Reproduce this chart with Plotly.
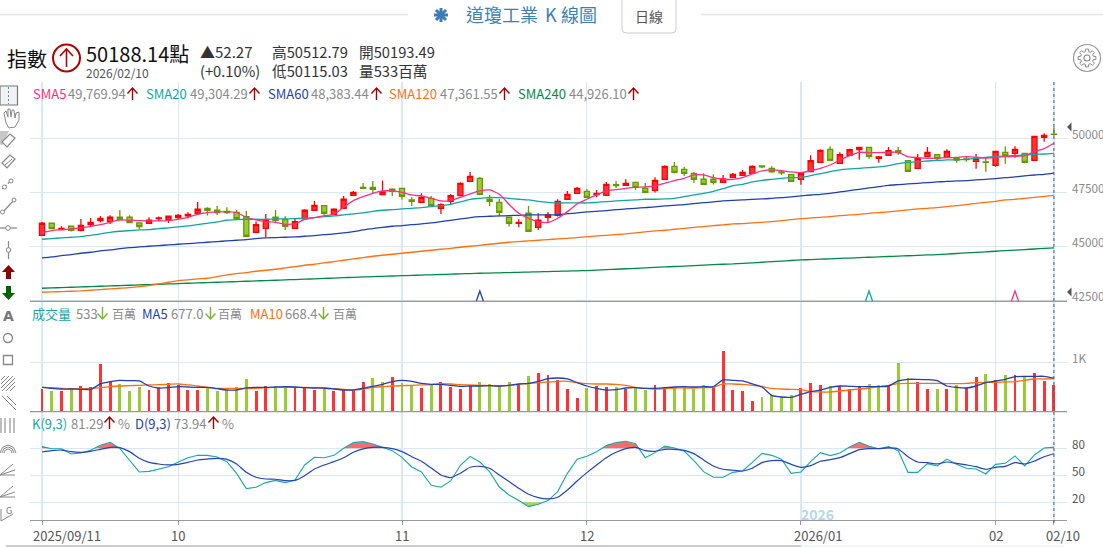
import plotly.graph_objects as go
import numpy as np

# ---------- data ----------
opens = [45510,46066,45773,45927,45742,46004,46189,46143,46344,46344,46081,46066,46282,46236,46328,46405,46529,46760,46668,46621,46575,46374,45649,45834,46344,46236,45834,46266,46668,46884,46482,46760,47362,47732,47732,47393,47640,47686,47146,47038,47223,46760,47084,47346,48010,48149,47177,47038,46344,46066,46529,45880,46344,46436,47177,47454,47547,47393,47362,47856,47825,47964,47686,47593,48103,48704,48565,48380,48103,48103,47964,48194,48287,48379,48719,48611,48441,48318,48101,48456,48889,49490,48842,49212,49475,49583,49073,49212,49428,48966,48611,49150,49243,49120,49073,49042,48935,48904,48750,49351,49305,49305,48981,50046,50193.49]
highs = [46128,46066,45927,45927,46266,46313,46405,46436,46683,46436,46081,46344,46374,46405,46498,46575,47053,46806,46868,46806,46683,46637,46143,46498,46683,46390,46297,46714,47100,46884,46760,47331,47563,47933,48025,48041,47686,47686,47269,47454,47331,46992,47424,47964,48442,48210,47377,47192,46344,46251,46868,46529,46590,47177,47563,47748,47655,47609,47979,48025,48103,47964,47933,48195,48751,48905,48673,48442,48380,48334,48303,48395,48534,48750,48750,48704,48503,48348,48364,49212,49490,49629,49351,49521,49614,49583,49181,49598,49598,48981,49274,49598,49243,49490,49120,49150,49274,49073,49428,49629,49629,49305,50122,50231,50512.79]
lows = [45479,45819,45757,45680,45680,45911,46097,46035,46220,46081,45788,46035,46174,46081,46236,46282,46498,46420,46452,46498,46251,45449,45634,45433,46066,45757,45819,46251,46652,46452,46467,46745,47346,47670,47454,47377,47331,47161,46868,47022,46837,46498,46915,47331,47995,47393,46868,46374,45911,45880,45696,45757,46112,46374,47161,47439,47254,47269,47346,47701,47809,47609,47501,47485,48087,48365,48257,47933,47856,47856,47948,48179,48271,48364,48611,48410,48302,47994,47855,48441,48873,48966,48827,49197,49012,49058,48873,49197,49243,48456,48595,49135,48966,49104,48873,48919,48595,48456,48688,48827,49104,48842,48966,49845,50115.03]
closes = [46066,45819,45834,45742,45973,46112,46297,46344,46236,46097,45911,46205,46313,46390,46436,46482,46714,46668,46560,46560,46282,45464,46004,46220,46205,45927,46143,46668,46899,46529,46714,47177,47501,47686,47640,47516,47547,47316,47084,47269,46884,46930,47346,47917,48241,47408,47084,46575,46066,46112,45696,46205,46452,47084,47408,47686,47269,47454,47871,47809,47917,47732,47501,48056,48704,48427,48380,48103,47871,47964,48118,48333,48426,48704,48673,48441,48395,48009,48364,48966,49444,48981,49243,49475,49583,49166,49135,49428,49336,48472,49058,49351,49058,49398,48996,49012,49073,48889,49398,49197,49490,48889,50091,50137,50188.14]

sma5 = [45634,45726,45773,45804,45865,45927,46004,46112,46220,46205,46189,46174,46174,46189,46251,46344,46482,46560,46590,46606,46560,46344,46220,46143,46112,46019,46050,46251,46328,46420,46482,46806,47115,47300,47454,47563,47563,47501,47377,47331,47223,47100,47115,47269,47424,47563,47609,47408,46945,46529,46297,46143,46097,46297,46606,46961,47177,47377,47563,47624,47686,47732,47748,47794,47917,48041,48149,48303,48303,48180,48103,48102,48179,48349,48487,48534,48503,48441,48410,48503,48611,48765,48997,49197,49351,49336,49336,49351,49351,49151,49105,49074,49089,49105,49120,49151,49120,49089,49120,49151,49166,49197,49382,49521,49769.94]
sma20 = [45325,45356,45387,45418,45449,45510,45572,45649,45696,45726,45757,45773,45819,45850,45896,45942,46004,46066,46128,46205,46236,46251,46251,46251,46266,46266,46282,46297,46328,46374,46405,46452,46498,46544,46621,46668,46698,46729,46760,46791,46837,46884,46945,47053,47177,47223,47269,47254,47223,47177,47146,47084,47038,47007,47007,47007,47007,47038,47069,47100,47130,47146,47177,47177,47192,47223,47300,47377,47454,47547,47670,47809,47870,47978,48055,48102,48148,48179,48194,48271,48364,48457,48534,48580,48611,48642,48673,48734,48827,48889,48919,48950,48981,48997,49012,49027,49074,49120,49151,49182,49197,49228,49259,49274,49304.29]
sma60 = [44461,44507,44569,44615,44677,44723,44785,44831,44893,44939,44970,45001,45032,45063,45094,45124,45155,45186,45217,45248,45279,45310,45356,45387,45402,45418,45433,45464,45495,45541,45572,45618,45680,45757,45819,45880,45927,45958,46004,46035,46081,46143,46205,46266,46328,46374,46390,46405,46420,46436,46452,46452,46452,46467,46513,46544,46590,46621,46652,46698,46729,46760,46791,46822,46868,46899,46930,46976,47022,47053,47100,47130,47145,47176,47191,47222,47253,47284,47330,47376,47407,47454,47515,47577,47639,47700,47762,47824,47855,47886,47916,47947,47978,48009,48025,48040,48071,48102,48133,48179,48210,48256,48302,48333,48383.44]
sma120 = [42872,42887,42903,42918,42934,42964,42995,43026,43057,43088,43134,43180,43258,43335,43412,43443,43489,43520,43597,43674,43736,43782,43844,43890,43936,43998,44060,44122,44168,44230,44291,44353,44415,44477,44538,44585,44631,44677,44723,44770,44816,44862,44908,44955,45001,45047,45094,45140,45186,45217,45248,45279,45310,45341,45371,45402,45449,45480,45510,45541,45572,45618,45665,45711,45742,45788,45834,45880,45911,45958,45989,46034,46049,46080,46111,46142,46188,46235,46281,46312,46343,46374,46420,46451,46481,46528,46559,46590,46636,46682,46728,46759,46790,46836,46883,46929,46991,47037,47083,47145,47176,47222,47268,47315,47361.55]
sma240 = [43057,43072,43088,43103,43119,43134,43150,43165,43180,43196,43211,43226,43242,43257,43272,43288,43303,43319,43334,43350,43365,43381,43396,43412,43427,43444,43461,43478,43495,43512,43529,43546,43563,43580,43597,43611,43625,43639,43653,43667,43681,43695,43709,43723,43737,43751,43762,43773,43785,43796,43807,43819,43830,43841,43853,43864,43875,43896,43917,43938,43959,43980,44001,44022,44043,44064,44085,44106,44127,44148,44168,44182,44208,44235,44261,44288,44314,44341,44368,44386,44403,44421,44439,44456,44474,44492,44509,44527,44545,44562,44580,44598,44615,44641,44667,44693,44719,44745,44771,44797,44823,44849,44875,44901,44926.10]

volume = [459,419,419,459,520,493,966,608,561,419,500,439,473,581,541,439,439,500,419,439,500,662,419,520,500,480,500,500,439,459,419,439,419,601,682,601,703,581,520,480,541,601,500,459,520,601,561,520,601,561,723,784,743,642,459,277,480,520,500,500,459,500,439,541,500,480,520,459,541,500,1230,439,419,216,297,338,297,338,480,581,541,520,520,459,520,561,541,541,987,682,601,459,459,459,541,480,703,764,642,743,743,703,784,622,533]
volume_dir = "RGRGRRRRGGGRRRRRRGGGGGRRGGRRRGRRRRGGRGGRGRRRRGGGGRGRRRRRGRRGRGGRRGGGGRRRRRGGGGRRRGRRRGGRGGRRGRGRRGRGRGRRR"
vol_ma5 = [493,473,459,459,453,453,561,608,635,628,622,520,480,486,507,500,493,493,466,439,439,480,493,493,500,507,500,486,480,480,459,439,439,473,514,554,608,635,615,574,554,554,534,514,520,520,527,520,534,561,574,615,669,682,662,588,520,473,439,446,480,486,473,473,486,500,507,500,507,507,642,635,622,561,500,331,297,291,351,405,439,493,520,514,507,507,507,520,622,655,655,649,628,520,493,480,520,588,622,655,709,716,716,716,677.0]
vol_ma10 = [493,486,473,466,466,466,486,507,520,527,534,541,547,554,561,541,520,493,473,473,473,466,473,486,493,493,493,493,486,473,466,453,439,459,493,507,520,527,534,541,547,568,561,547,541,534,527,520,534,554,568,588,601,615,615,588,568,561,561,554,534,493,473,459,466,480,480,480,486,493,561,561,554,534,507,473,459,453,446,405,399,399,419,439,459,480,507,534,568,574,574,574,574,568,568,574,588,595,595,601,608,635,662,662,668.4]

k_vals = [81.9,79.6,79.6,73.7,74.8,77.8,83.3,86.7,80,67,53.7,54.4,57,59.6,64.8,69.6,72.2,72.2,70.4,65.2,52.2,35.2,36.7,41.9,44.4,41.9,44.8,61.5,70,69.6,72.2,80,86.3,87.4,84.8,81.1,77.4,70,59.3,53.7,38.9,36.7,43.7,61.1,71.1,64.8,54.1,37,28.1,21.9,15.2,17.8,21.9,31.9,52.2,67.8,71.1,76.3,83,86.3,87.8,85.2,69.6,75.2,82.6,80.4,77,66.3,54.1,47.8,47.8,53.3,54.8,64.4,74.4,72.2,67.8,52.2,53.7,65.2,75.2,71.9,74.8,81.5,86.7,82.2,79.6,81.9,77.4,53.3,53.3,63,60.4,68.1,62.2,57.8,57,51.5,62.2,63.3,71.5,60.4,72.6,80.4,81.29]
d_vals = [75.9,77.4,78.1,76.3,75.6,76.7,78.9,81.1,80.7,76.3,68.9,64.4,62.6,61.5,62.2,64.4,67,68.1,68.9,67.8,62.6,53.3,47.8,45.9,45.6,44.1,44.4,49.6,57,61.5,65.2,69.6,75.6,79.3,81.1,81.1,79.6,76.3,70.7,65.6,58.1,50.4,47.4,52.2,58.9,60,57.8,50.4,43,35.6,28.9,25.2,23.7,25.6,33.7,43.7,53,61.5,69.6,75.6,79.6,81.1,77.4,76.7,78.9,78.9,77.8,74.1,67,60.4,56.7,55.6,54.8,57.8,64.1,66.3,66.3,62.2,58.9,60.7,65.6,67.4,69.6,74.1,78.5,79.6,79.6,80.4,79.3,70.7,64.8,64.1,62.6,64.8,63.3,61.5,59.6,56.7,58.9,60,64.1,62.6,65.9,70.7,73.94]

tick_index = [0,14,37,56,78,98,104]
tick_text = ["2025/09/11","10","11","12","2026/01","02","02/10"]
price_ticks = [42500,45000,47500,50000]
vol_ticks = [1000]
vol_tick_text = ["1K"]
kd_ticks = [20,50,80]

# ---------- style ----------
W, H = 1103, 547
FONT = "Noto Sans CJK TC"
GRID = "#D6E9F4"
RED, RED_E = "#FF3333", "#FF0000"
GRN, GRN_E = "#99CC33", "#669900"
C5, C20, C60, C120, C240 = "#FF2E80", "#10A5A5", "#1F3FB5", "#FF7010", "#008A45"
C_K, C_D = "#14A8A8", "#2244BB"

px = lambda x: x / W
py = lambda y: 1 - y / H
x_all = list(range(len(closes)))

fig = go.Figure()
fig.add_trace(go.Candlestick(
    x=x_all, open=opens, high=highs, low=lows, close=closes, yaxis="y", xaxis="x",
    increasing=dict(line=dict(color=RED_E, width=1.3), fillcolor=RED),
    decreasing=dict(line=dict(color=GRN_E, width=1.3), fillcolor=GRN),
    whiskerwidth=0, showlegend=False, hoverinfo="skip"))
for s, c in [(sma240, C240), (sma120, C120), (sma60, C60), (sma20, C20), (sma5, C5)]:
    fig.add_trace(go.Scatter(x=x_all, y=s, mode="lines", yaxis="y",
                             line=dict(color=c, width=1.3, shape="spline", smoothing=0.6),
                             showlegend=False, hoverinfo="skip"))
fig.add_trace(go.Bar(x=x_all, y=volume, width=0.3, yaxis="y2",
                     marker=dict(color=[RED if d == "R" else GRN for d in volume_dir], line_width=0),
                     showlegend=False, hoverinfo="skip"))
for s, c in [(vol_ma10, C120), (vol_ma5, C60)]:
    fig.add_trace(go.Scatter(x=x_all, y=s, mode="lines", yaxis="y2",
                             line=dict(color=c, width=1.3, shape="spline", smoothing=0.6),
                             showlegend=False, hoverinfo="skip"))

# K overbought / oversold wedges: closed polygons from the K series itself
fine = np.arange(0, len(k_vals) - 1 + 0.02, 0.02)
k_fine = np.interp(fine, x_all, k_vals)
for level, mask, col in [(80, k_fine > 80, "rgba(255,70,70,0.8)"), (20, k_fine < 20, "rgba(150,205,60,0.85)")]:
    idx = np.where(mask)[0]
    if len(idx) == 0:
        continue
    for run in np.split(idx, np.where(np.diff(idx) > 1)[0] + 1):
        xs = list(fine[run]) + [fine[run[-1]], fine[run[0]]]
        ys = list(k_fine[run]) + [level, level]
        fig.add_trace(go.Scatter(x=xs, y=ys, mode="lines", yaxis="y3", fill="toself", fillcolor=col,
                                 line=dict(width=0), showlegend=False, hoverinfo="skip"))
fig.add_trace(go.Scatter(x=x_all, y=k_vals, mode="lines", yaxis="y3", line=dict(color=C_K, width=1.1),
                         showlegend=False, hoverinfo="skip"))
fig.add_trace(go.Scatter(x=x_all, y=d_vals, mode="lines", yaxis="y3",
                         line=dict(color=C_D, width=1.2, shape="spline", smoothing=0.5),
                         showlegend=False, hoverinfo="skip"))

shapes, ann = [], []

def line(x0, y0, x1, y1, color="#888", width=1, dash=None):
    shapes.append(dict(type="line", xref="paper", yref="paper", x0=px(x0), y0=py(y0), x1=px(x1), y1=py(y1),
                       line=dict(color=color, width=width, dash=dash), layer="above"))

def circle(cx, cy, r, color="#888", width=1.5, fill=None):
    shapes.append(dict(type="circle", xref="paper", yref="paper", x0=px(cx - r), y0=py(cy - r), x1=px(cx + r), y1=py(cy + r),
                       line=dict(color=color, width=width), fillcolor=fill or "rgba(0,0,0,0)", layer="above"))

def rect(x0, y0, x1, y1, color="#888", width=1, fill=None):
    shapes.append(dict(type="rect", xref="paper", yref="paper", x0=px(x0), y0=py(y0), x1=px(x1), y1=py(y1),
                       line=dict(color=color, width=width), fillcolor=fill or "rgba(0,0,0,0)", layer="above"))

def poly(pts, fill=None, color=None, width=1, close=True):
    d = "M " + " L ".join(f"{px(a):.5f},{py(b):.5f}" for a, b in pts) + (" Z" if close else "")
    shapes.append(dict(type="path", xref="paper", yref="paper", path=d,
                       fillcolor=fill or "rgba(0,0,0,0)", line=dict(color=color or "rgba(0,0,0,0)", width=width), layer="above"))

def text(x, y, t, size=13, color="#555", anchor="left", **kw):
    ann.append(dict(xref="paper", yref="paper", x=px(x), y=py(y), text=t, showarrow=False, xanchor=anchor, yanchor="middle",
                    font=dict(size=size, color=color, family=kw.get("family", FONT)), align="left",
                    borderpad=0, borderwidth=0))

def arrow(x, yc, up, color):
    xc = x + 5.5
    tip = yc - 6 if up else yc + 6
    sgn = 1 if up else -1
    line(xc, yc - 6, xc, yc + 6, color, 1.4)
    poly([(xc - 5, tip + 5.5 * sgn), (xc, tip), (xc + 5, tip + 5.5 * sgn)], color=color, width=1.4, close=False)

# panel rules and last-bar cursor
for yy in (301.3, 411.7):
    line(30, yy, 1067, yy, "#999", 1.2)
line(6, 546, 801, 546, "#999", 1.2)
line(801, 546, 1064, 546, "#DDF3F8", 1.2)
shapes.append(dict(type="line", xref="x", yref="paper", x0=104, x1=104, y0=py(82), y1=py(525),
                   line=dict(color="#4F5F73", width=1, dash="3px,3px"), layer="above"))

# signal chevrons
for idx, col in [(45, C60), (85, C20), (100, C5)]:
    xc = 42 + 9.73 * idx
    poly([(xc - 3.5, 301), (xc, 291), (xc + 3.5, 301)], color=col, width=1.3, close=False)
# right-hand pointers
for yy in (127, 292):
    poly([(1067, yy), (1071.5, yy - 4.5), (1071.5, yy + 4.5)], fill="#555")

# top bar
line(0, 14.5, 408, 14.5, "#E4E4E4", 1.3)
line(701, 14.5, 1103, 14.5, "#E4E4E4", 1.3)
poly([(622, -2), (622, 29), (623, 32), (626, 33), (672, 33), (675, 32), (676, 29), (676, -2)], color="#CCCCCC", width=1, close=False)
for dx, dy in [(7, 0), (0, 7), (5, 5), (5, -5)]:
    line(441 - dx, 15 - dy, 441 + dx, 15 + dy, "#3A7BB8", 3)
circle(441, 15, 3, "#3A7BB8", 1, "#3A7BB8")
text(466, 14, "道瓊工業", 18, "#3D7FB5")
text(545, 14, "K", 18, "#3D7FB5")
text(561, 14, "線圖", 18, "#3D7FB5")
text(649, 16, "日線", 14, "#555", "center")

# quote header
text(7, 58, "指數", 20, "#111")
circle(66.5, 58, 13.5, "#B00000", 2)
line(66.5, 49, 66.5, 67, "#B00000", 1.6)
poly([(60, 56), (66.5, 49), (73, 56)], color="#B00000", width=1.6, close=False)
text(86, 53, "50188.14點", 20, "#111")
text(86, 72, "2026/02/10", 12, "#555")
text(200, 51, "▲52.27", 15, "#333")
text(200, 71, "(+0.10%)", 14.7, "#333")
text(272, 51, "高50512.79", 14.7, "#333")
text(272, 71, "低50115.03", 14.7, "#333")
text(359, 51, "開50193.49", 14.7, "#333")
text(359, 71, "量533百萬", 14.7, "#333")

# gear
circle(1087, 58, 13.5, "#999999", 1.2)
gear_pts = []
for a in range(0, 360, 45):
    for da, r in [(-16, 6.5), (-9, 9), (9, 9), (16, 6.5)]:
        t = np.radians(a + da)
        gear_pts.append((1087 + r * np.cos(t), 58 + r * np.sin(t)))
poly(gear_pts, color="#888888", width=1)
circle(1087, 58, 3, "#888888", 1.1)

# indicator legends
UP, DOWN = "#A80000", "#77B52E"
GRAY = "#8A8A8A"
for x, name, col, val, vx, ax in [(33, "SMA5", C5, "49,769.94", 68, 127), (146, "SMA20", C20, "49,304.29", 190, 249),
                                   (268, "SMA60", C60, "48,383.44", 311, 371), (389, "SMA120", C120, "47,361.55", 440, 499),
                                   (518, "SMA240", C240, "44,926.10", 569, 628)]:
    text(x, 94, name, 13, col)
    text(vx, 94, val, 13, GRAY)
    arrow(ax, 94, True, UP)
for x, name, col, val, vx, ax, ux in [(32, "成交量", "#14A8A8", "533", 76, 97, 112), (142, "MA5", C60, "677.0", 171, 205, 218),
                                       (250, "MA10", C120, "668.4", 285, 318, 333)]:
    text(x, 313, name, 13, col)
    text(vx, 313, val, 13, GRAY)
    arrow(ax, 313, False, DOWN)
    text(ux, 313, "百萬", 12, GRAY)
for x, name, col, val, vx, ax, ux in [(32, "K(9,3)", "#14A8A8", "81.29", 71, 104, 118), (135, "D(9,3)", C60, "73.94", 174, 208, 222)]:
    text(x, 423, name, 13, col)
    text(vx, 423, val, 13, GRAY)
    arrow(ax, 423, True, UP)
    text(ux, 423, "%", 13, GRAY)

text(817, 514, "<b>2026</b>", 14, "#B5D7F2", "center")

# x tick labels (shifted as in the reference)
shift = [25, 0, 0, 0, 17, 0, 9]
for i, t, s in zip(tick_index, tick_text, shift):
    ann.append(dict(xref="x", yref="paper", x=i, y=py(535), xshift=s, text=t, showarrow=False, xanchor="center", yanchor="middle",
                    font=dict(size=13, color="#555", family=FONT)))

# y tick labels sit just above their grid lines
def ylabels(axis, vals, texts, color):
    for v, t in zip(vals, texts):
        ann.append(dict(xref="paper", yref=axis, x=px(1070), y=v, yshift=5, text=t, showarrow=False, xanchor="left", yanchor="middle",
                        font=dict(size=11.7, color=color, family=FONT)))
ylabels("y", price_ticks, [str(v) for v in price_ticks], "#8A8A8A")
ylabels("y2", vol_ticks, vol_tick_text, "#8A8A8A")
ylabels("y3", kd_ticks, [str(v) for v in kd_ticks], "#555")

# left tool bar
G = "#888888"
rect(0, 86, 17.5, 105, "#777", 1.2, "#F2F2F2")
line(8.5, 87, 8.5, 104, "#2A9BD8", 1, "2px,2px")
poly([(4, 113), (6, 123), (9, 128), (15, 127), (19, 120), (19, 112), (16, 113), (15, 118), (14, 110), (12, 110), (11, 117),
      (10, 109), (8, 109), (8, 117), (6, 111)], color=G, width=1)
poly([(0, 131), (9, 131), (2, 146), (0, 144)], fill="#C8C8C8")
poly([(2, 142), (10, 134), (15, 138), (7, 147)], fill="#FFFFFF", color=G, width=1.2)
poly([(2, 163), (10, 155), (15, 159), (7, 168)], color=G, width=1.2)
line(5, 165, 12, 159, G, 1)
line(2, 189, 14, 178, G, 1.2, "2px,2px")
circle(4.5, 187, 2, G, 1, "#FFF"); circle(11, 181, 2, G, 1, "#FFF")
line(2, 213, 15, 199, G, 1.2)
circle(2.5, 212, 2, G, 1, "#FFF"); circle(14, 200, 2, G, 1, "#FFF")
line(0, 228, 17, 228, G, 1.2); circle(8, 228, 2.3, G, 1, "#FFF")
line(8.5, 241, 8.5, 259, G, 1.2); circle(8.5, 250, 2.3, G, 1, "#FFF")
poly([(8.5, 265), (15, 272), (11, 272), (11, 279), (6, 279), (6, 272), (2, 272)], fill="#8B0000")
poly([(6, 286), (11, 286), (11, 293), (15, 293), (8.5, 300), (2, 293), (6, 293)], fill="#006400")
text(8.5, 316, "<b>A</b>", 14, "#777", "center", family="DejaVu Sans")
circle(8, 338, 4.5, G, 1.3)
rect(3.5, 355.5, 12.5, 364.5, G, 1.3)
for c in (381, 385, 389, 393, 397, 401):  # hatch: x + y = c clipped to the icon box
    x0, x1 = max(1, c - 391), min(15, c - 376)
    line(x0, c - x0, x1, c - x1, G, 1)
for off in (0, 5):
    line(2 + off, 396, 16, 410 - off, G, 1)
for xx in (1, 5, 10, 14):
    line(xx, 418, xx, 433, G, 1.1)
for r in (8, 6, 4):
    poly([(8 - r, 453), (8 - r * 0.7, 453 - r * 0.7), (8, 453 - r), (8 + r * 0.7, 453 - r * 0.7), (8 + r, 453)], color=G, width=1, close=False)
for yb in (476, 498):
    line(0, yb - 1, 15, yb - 1, G, 1)
    line(0, yb - 1, 13, yb - 12, G, 1)
    line(0, yb - 1, 15, yb - 6, G, 1)
line(1, 509, 1, 521, G, 1); line(1, 521, 13, 514, G, 1)
text(6, 511, "G", 8, "#777", "left", family="DejaVu Sans")

# ---------- layout ----------
L, R = 30, 1067
step = 9.73
def axis_y(lo, hi, vals):
    return dict(range=[lo, hi], side="right", tickvals=vals, showticklabels=False, showgrid=True, gridcolor=GRID,
                gridwidth=1.2, zeroline=False, showline=False, ticks="", fixedrange=True, anchor="x")

fig.update_layout(
    width=W, height=H, autosize=False, margin=dict(l=0, r=0, t=0, b=0), paper_bgcolor="white", plot_bgcolor="white",
    font=dict(family=FONT), showlegend=False, dragmode=False, bargap=0, boxgap=0.25,
    xaxis=dict(domain=[px(L), px(R)], range=[(L - 42) / step, (R - 42) / step], anchor="y3", tickvals=tick_index,
               ticktext=[""] * len(tick_index), showgrid=True, gridcolor=GRID, gridwidth=1.2, zeroline=False,
               showline=True, linecolor="#999", linewidth=1.2, ticks="outside", ticklen=4, tickcolor="#999",
               rangeslider=dict(visible=False), fixedrange=True),
    yaxis=dict(domain=[py(301.3), py(82)], **axis_y(42453, 52607, price_ticks)),
    yaxis2=dict(domain=[py(411.7), py(301.3)], **axis_y(0, 2234, vol_ticks)),
    yaxis3=dict(domain=[py(520), py(411.7)], **axis_y(0.33, 120.7, kd_ticks)),
    shapes=shapes, annotations=ann,
)

fig.write_html("out.html", config=dict(displayModeBar=False, staticPlot=True),
               post_script="document.body.style.margin='0';document.body.style.overflow='hidden';")
